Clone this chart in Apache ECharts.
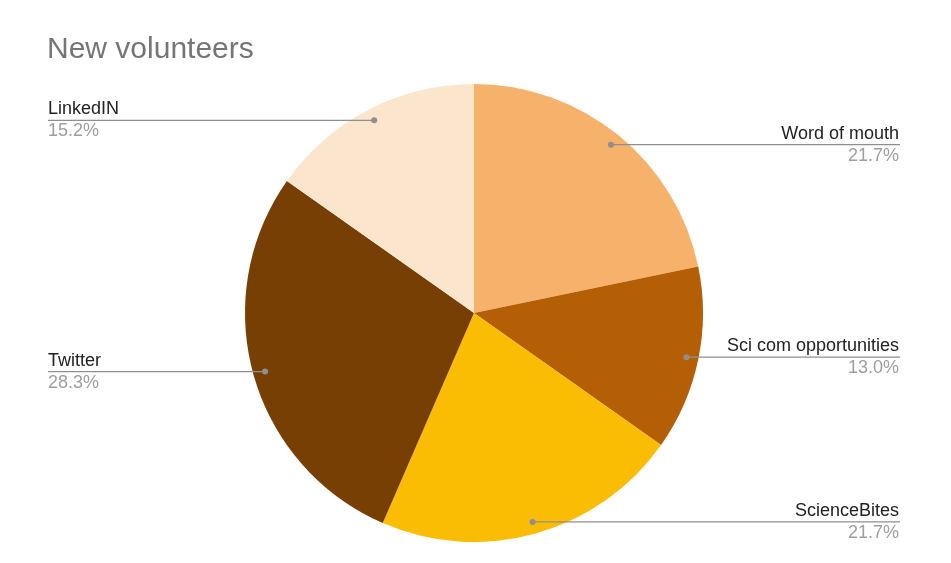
<!DOCTYPE html>
<html><head><meta charset="utf-8">
<script src="https://cdn.jsdelivr.net/npm/echarts@6/dist/echarts.min.js"></script>
<style>html,body{margin:0;padding:0;background:#fff}#c{width:951px;height:563px}</style>
</head><body><div id="c"></div>
<script>
const chartTitle = 'New volunteers';
const categories = ['Word of mouth', 'Sci com opportunities', 'ScienceBites', 'Twitter', 'LinkedIN'];
const values = [10, 6, 10, 13, 7];
const colors = ['#F6B26B', '#B45F06', '#FBBC04', '#783F04', '#FCE5CD'];

const font = 'Arial, "Liberation Sans", sans-serif';
const data = categories.map((n, i) => ({ name: n, value: values[i] }));
const total = values.reduce((a, b) => a + b, 0);
let acc = 0;
const dotData = values.map(v => { const mid = acc + v / 2; acc += v; return [217, mid]; });

const common = {
  type: 'pie', left: 48, right: 52, top: 0, bottom: 0,
  center: [426, 313], startAngle: 90, clockwise: true,
  silent: true, animation: false, emphasis: { disabled: true }
};

const chart = echarts.init(document.getElementById('c'), null, { renderer: 'canvas' });
chart.setOption({
  backgroundColor: '#ffffff',
  animation: false,
  title: {
    text: chartTitle, left: 47, top: 35, padding: 0,
    textStyle: { fontFamily: font, fontSize: 30, fontWeight: 'normal', color: '#757575' }
  },
  polar: { center: [474, 313], radius: 229 },
  angleAxis: { type: 'value', min: 0, max: total, startAngle: 90, clockwise: true, show: false },
  radiusAxis: { type: 'value', min: 0, max: 229, show: false },
  series: [
    Object.assign({}, common, {
      name: 'main', radius: 229, z: 1,
      data: data.map((d, i) => ({ name: d.name, value: d.value, itemStyle: { color: colors[i] } })),
      label: { show: false }, labelLine: { show: false }
    }),
    Object.assign({}, common, {
      name: 'lines', radius: 216, z: 3,
      data: data,
      itemStyle: { color: 'rgba(0,0,0,0)' },
      label: {
        show: true, position: 'outside', alignTo: 'edge', edgeDistance: 0,
        fontFamily: font,
        formatter: p => '{n|' + p.name + '}\n{p|' + p.percent.toFixed(1) + '%}',
        rich: {
          n: { fontFamily: font, fontSize: 18, color: '#222222', lineHeight: 22 },
          p: { fontFamily: font, fontSize: 18, color: '#9e9e9e', lineHeight: 22 }
        }
      },
      labelLine: { show: true, length: 1, length2: 10, lineStyle: { color: '#8f8f8f', width: 1.3 } },
      labelLayout: function (p) {
        const pts = p.labelLinePoints;
        if (!pts || !pts.length) return {};
        const np = pts.map(q => q.slice());
        const isLeft = np[np.length - 1][0] < np[0][0];
        const r = p.labelRect;
        np[np.length - 1][0] = isLeft ? r.x : r.x + r.width + 1;
        return { labelLinePoints: np };
      }
    }),
    {
      name: 'dots', type: 'scatter', coordinateSystem: 'polar', z: 4,
      data: dotData, symbol: 'circle', symbolSize: 6, silent: true,
      itemStyle: { color: '#8f8f8f', opacity: 1 }
    }
  ]
});
</script>
</body></html>
